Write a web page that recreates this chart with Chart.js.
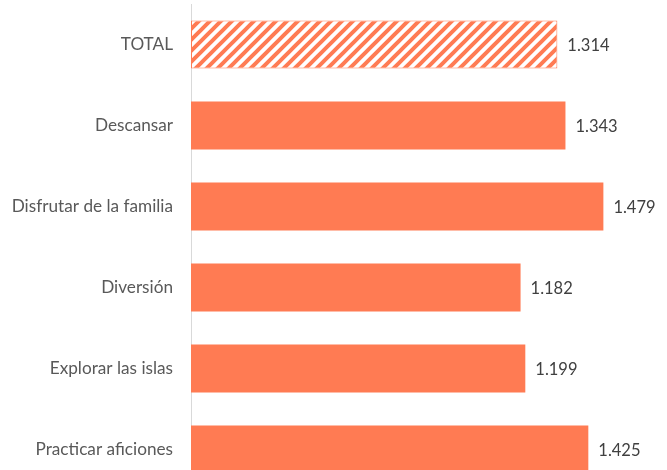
<!DOCTYPE html>
<html>
<head>
<meta charset="utf-8">
<script src="https://cdn.jsdelivr.net/npm/chart.js@4.4.0/dist/chart.umd.min.js"></script>
<style>
html,body{margin:0;padding:0;background:#fff;overflow:hidden;}
#wrap{width:667px;height:490px;position:relative;}
</style>
</head>
<body>
<div id="wrap"><canvas id="c" width="667" height="490"></canvas></div>
<script>
const categories = ["TOTAL", "Descansar", "Disfrutar de la familia", "Diversión", "Explorar las islas", "Practicar aficiones"];
const values = [1314, 1343, 1479, 1182, 1199, 1425];
const xMax = 1700;

function hatch(color) {
  const s = 11;
  const c = document.createElement('canvas');
  c.width = s; c.height = s;
  const g = c.getContext('2d');
  g.fillStyle = '#fff';
  g.fillRect(0, 0, s, s);
  g.strokeStyle = color;
  g.lineWidth = 4;
  g.beginPath();
  g.moveTo(-s, s * 2); g.lineTo(s * 2, -s);
  g.moveTo(-s, s); g.lineTo(s, -s);
  g.moveTo(0, s * 2); g.lineTo(s * 2, 0);
  g.stroke();
  return g.createPattern(c, 'repeat');
}

const orange = '#FF7B53';
const fmt = v => v.toLocaleString('de-DE');

const labelPlugin = {
  id: 'valueLabels',
  afterDatasetsDraw(chart) {
    const ctx = chart.ctx;
    const meta = chart.getDatasetMeta(0);
    ctx.save();
    ctx.font = '16.5px Lato';
    ctx.fillStyle = '#404040';
    ctx.textAlign = 'left';
    ctx.textBaseline = 'middle';
    meta.data.forEach((bar, i) => {
      ctx.fillText(fmt(values[i]), bar.x + 10, bar.y + 1);
    });
    ctx.restore();
  }
};

new Chart(document.getElementById('c'), {
  type: 'bar',
  data: {
    labels: categories,
    datasets: [{
      data: values,
      backgroundColor: values.map((v, i) => i === 0 ? hatch(orange) : orange),
      borderColor: orange,
      borderWidth: values.map((v, i) => i === 0 ? 1 : 0),
      borderSkipped: false,
      categoryPercentage: 1,
      barPercentage: 0.595
    }]
  },
  options: {
    indexAxis: 'y',
    responsive: false,
    animation: false,
    devicePixelRatio: 1,
    layout: { padding: { top: 4, right: 2, bottom: 0, left: 0 } },
    plugins: { legend: { display: false }, tooltip: { enabled: false } },
    scales: {
      x: { display: false, min: 0, max: xMax },
      y: {
        grid: { display: false, drawTicks: false },
        border: { display: true, color: '#D9D9D9', width: 1 },
        ticks: { color: '#595959', font: { family: 'Lato', size: 17.2 }, padding: 18 },
        afterFit(scale) { scale.width = 191; scale.paddingTop = 0; scale.paddingBottom = 0; }
      }
    }
  },
  plugins: [labelPlugin]
});
</script>
</body>
</html>
